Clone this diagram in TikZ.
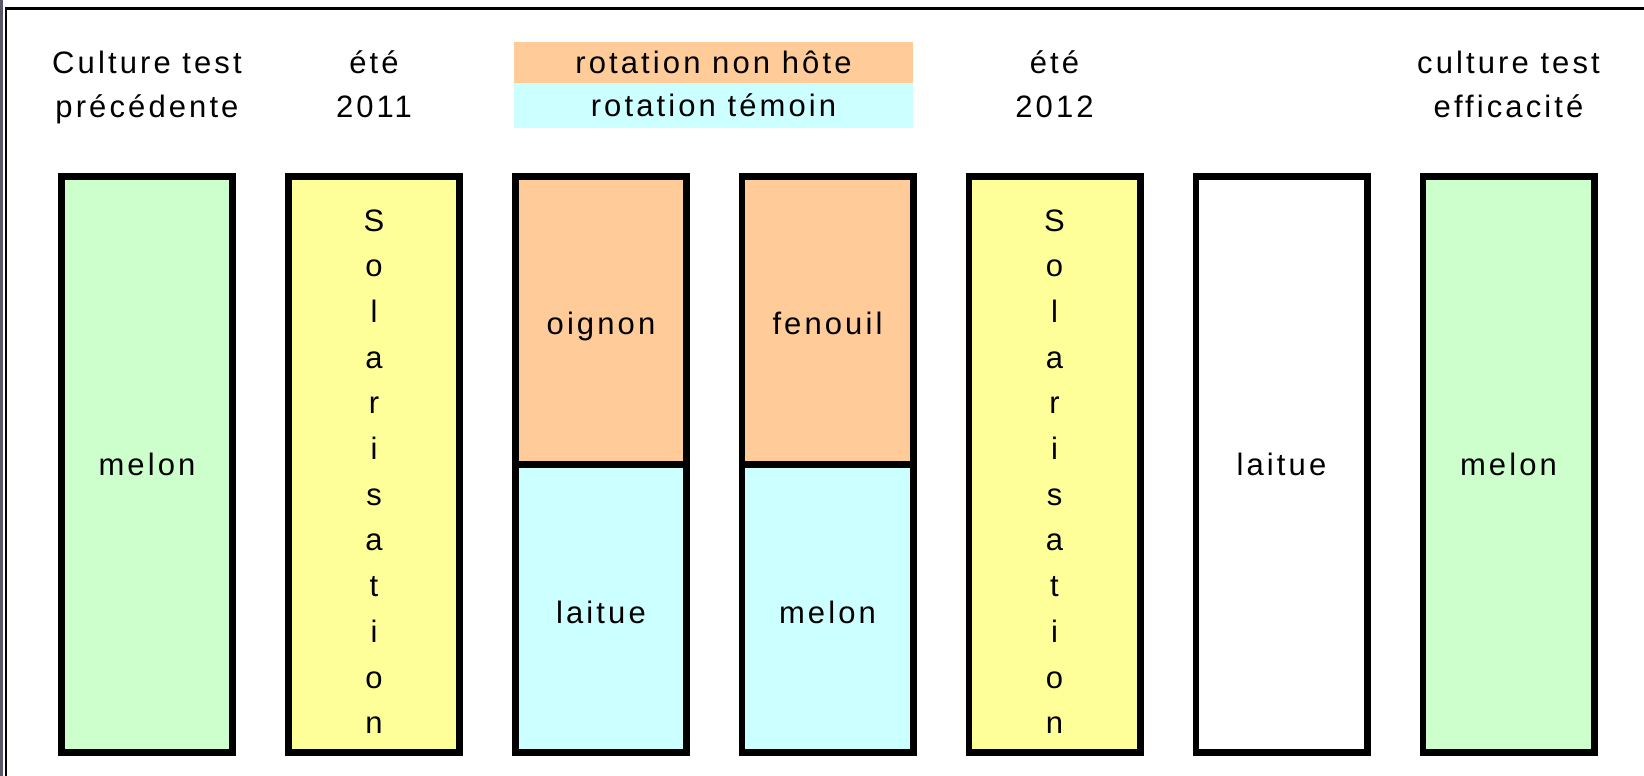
\documentclass[tikz,border=0pt]{standalone}
\usepackage{fontspec}
\setmainfont{Liberation Sans}[LetterSpace=10]
\definecolor{orng}{RGB}{255,204,153}
\definecolor{cyn}{RGB}{204,255,255}
\definecolor{grn}{RGB}{204,255,204}
\definecolor{ylw}{RGB}{255,255,153}
\definecolor{frameg}{RGB}{88,88,104}
\tikzset{
  txt/.style={font=\fontsize{31}{44}\selectfont, inner sep=0pt},
  hdr/.style={txt, anchor=base},
  colbox/.style={txt, draw=black, line width=6.7pt, minimum width=171.3pt,
    text height=22pt, text depth=0pt},
  fullbox/.style={colbox, minimum height=576.3pt},
  halfbox/.style={colbox, minimum height=288.15pt, text height=29pt},
  legbox/.style={txt, minimum width=399pt, text height=22pt, text depth=0pt},
  vert/.style={anchor=base, inner sep=0pt, font=\fontsize{31}{45.7}\selectfont}
}
\begin{document}
\begin{tikzpicture}[x=1pt,y=-1pt]
\useasboundingbox (0,0) rectangle (1644,776);
% frame
\fill[frameg] (0,0) rectangle (3,776);
\fill[black] (4.7,7.3) rectangle (1644,10);
\fill[black] (4.7,7.3) rectangle (7.3,776);
% headers
\node[hdr] (h1) at (147,74) {\begin{tabular}[t]{@{}c@{}}Culture test\\précédente\end{tabular}};
\node[hdr] (h2) at (374,74) {\begin{tabular}[t]{@{}c@{}}été\\2011\end{tabular}};
\node[hdr] (h5) at (1054.5,74) {\begin{tabular}[t]{@{}c@{}}été\\2012\end{tabular}};
\node[hdr] (h7) at (1508.5,74) {\begin{tabular}[t]{@{}c@{}}culture test\\efficacité\end{tabular}};
% legend
\node[legbox, fill=orng, minimum height=41pt] (lg1) at (713.5,62.5) {rotation non hôte};
\node[legbox, fill=cyn, minimum height=45pt] (lg2) at (713.5,105.5) {rotation témoin};
% columns
\node[fullbox, fill=grn] (b1) at (147,464.5) {melon};
\node[fullbox, fill=ylw] (b2) at (374,464.5) {};
\node[halfbox, fill=orng] (b3a) at (601,320.425) {oignon};
\node[halfbox, fill=cyn] (b3b) at (601,608.575) {laitue};
\node[halfbox, fill=orng] (b4a) at (827.5,320.425) {fenouil};
\node[halfbox, fill=cyn] (b4b) at (827.5,608.575) {melon};
\node[fullbox, fill=ylw] (b5) at (1054.5,464.5) {};
\node[fullbox, fill=white] (b6) at (1281.5,464.5) {laitue};
\node[fullbox, fill=grn] (b7) at (1508.5,464.5) {melon};
% vertical Solarisation
\node[vert] (s2) at (374,231) {\begin{tabular}[t]{@{}c@{}}S\\o\\l\\a\\r\\i\\s\\a\\t\\i\\o\\n\end{tabular}};
\node[vert] (s5) at (1054.5,231) {\begin{tabular}[t]{@{}c@{}}S\\o\\l\\a\\r\\i\\s\\a\\t\\i\\o\\n\end{tabular}};
\end{tikzpicture}
\end{document}
